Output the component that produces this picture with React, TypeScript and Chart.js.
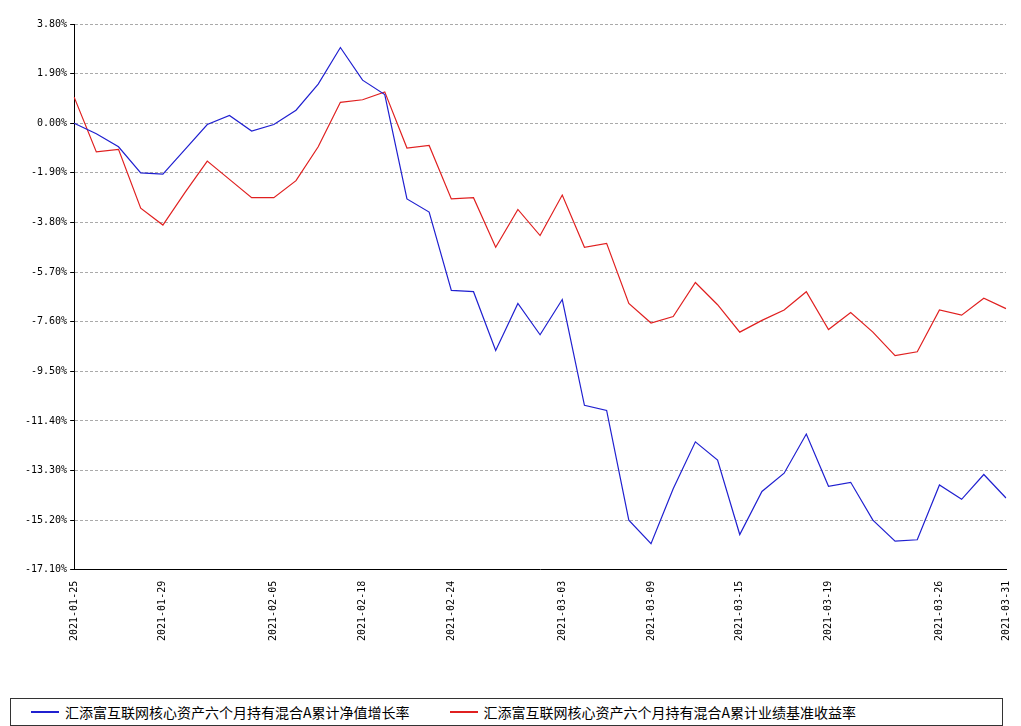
import { useEffect, useRef } from "react";
import { Chart, registerables } from "chart.js";

Chart.register(...registerables);

const dates = [
  "2021-01-25", "2021-01-26", "2021-01-27", "2021-01-28", "2021-01-29",
  "2021-02-01", "2021-02-02", "2021-02-03", "2021-02-04", "2021-02-05",
  "2021-02-08", "2021-02-09", "2021-02-10", "2021-02-18", "2021-02-19",
  "2021-02-22", "2021-02-23", "2021-02-24", "2021-02-25", "2021-02-26",
  "2021-03-01", "2021-03-02", "2021-03-03", "2021-03-04", "2021-03-05",
  "2021-03-08", "2021-03-09", "2021-03-10", "2021-03-11", "2021-03-12",
  "2021-03-15", "2021-03-16", "2021-03-17", "2021-03-18", "2021-03-19",
  "2021-03-22", "2021-03-23", "2021-03-24", "2021-03-25", "2021-03-26",
  "2021-03-29", "2021-03-30", "2021-03-31",
];

const shownDates = [
  "2021-01-25", "2021-01-29", "2021-02-05", "2021-02-18", "2021-02-24",
  "2021-03-03", "2021-03-09", "2021-03-15", "2021-03-19", "2021-03-26", "2021-03-31",
];

const fundGrowth = [
  0.0, -0.4, -0.9, -1.9, -1.95, -1.0, -0.05, 0.3, -0.3, -0.05,
  0.5, 1.5, 2.9, 1.65, 1.1, -2.9, -3.4, -6.4, -6.45, -8.7,
  -6.9, -8.1, -6.75, -10.8, -11.0, -15.2, -16.1, -14.0, -12.2, -12.9,
  -15.75, -14.1, -13.4, -11.9, -13.9, -13.75, -15.2, -16.0, -15.95, -13.85,
  -14.4, -13.45, -14.35,
];

const benchmark = [
  1.0, -1.1, -1.0, -3.25, -3.9, -2.65, -1.45, -2.15, -2.85, -2.85,
  -2.2, -0.9, 0.8, 0.9, 1.2, -0.95, -0.85, -2.9, -2.85, -4.75,
  -3.3, -4.3, -2.75, -4.75, -4.6, -6.9, -7.65, -7.4, -6.1, -6.95,
  -8.0, -7.55, -7.15, -6.45, -7.9, -7.25, -8.0, -8.9, -8.75, -7.15,
  -7.35, -6.7, -7.1,
];

const yTicks = [3.8, 1.9, 0, -1.9, -3.8, -5.7, -7.6, -9.5, -11.4, -13.3, -15.2, -17.1];

const seriesNames = [
  "汇添富互联网核心资产六个月持有混合A累计净值增长率",
  "汇添富互联网核心资产六个月持有混合A累计业绩基准收益率",
];

const font = "'DejaVu Sans Mono', monospace";

export default function App() {
  const canvasRef = useRef<HTMLCanvasElement>(null);

  useEffect(() => {
    document.body.style.margin = "0";
    if (!canvasRef.current) return;
    const chart = new Chart(canvasRef.current, {
      type: "line",
      data: {
        labels: dates,
        datasets: [
          { label: seriesNames[0], data: fundGrowth, borderColor: "#2020d0", borderWidth: 1.2, pointRadius: 0, tension: 0 },
          { label: seriesNames[1], data: benchmark, borderColor: "#e02020", borderWidth: 1.2, pointRadius: 0, tension: 0 },
        ],
      },
      options: {
        animation: false,
        responsive: false,
        layout: { padding: { top: 24, right: 6, left: 22 } },
        plugins: { legend: { display: false }, tooltip: { enabled: false } },
        scales: {
          x: {
            offset: false,
            border: { color: "#000" },
            grid: { display: false },
            ticks: {
              autoSkip: false,
              maxRotation: 90,
              minRotation: 90,
              color: "#000",
              font: { family: font, size: 10 },
              callback: (_v, i) => (shownDates.includes(dates[i]) ? dates[i] : ""),
            },
          },
          y: {
            min: -17.1,
            max: 3.8,
            afterBuildTicks: (s) => {
              s.ticks = yTicks.map((v) => ({ value: v }));
            },
            border: { color: "#000", dash: [3, 2] },
            grid: {
              color: (c) => (c.tick && c.tick.value === -17.1 ? "rgba(0,0,0,0)" : "#aaa"),
              tickColor: "#000",
              tickLength: 4,
            },
            ticks: {
              color: "#000",
              font: { family: font, size: 10 },
              callback: (v) => Number(v).toFixed(2) + "%",
            },
          },
        },
      },
    });
    return () => chart.destroy();
  }, []);

  return (
    <div style={{ width: 1021, fontFamily: "'Noto Sans CJK SC', sans-serif" }}>
      <canvas ref={canvasRef} width={1021} height={644} />
      <div
        style={{
          margin: "54px 18px 0 10px",
          border: "1px solid #333",
          height: 26,
          display: "flex",
          alignItems: "center",
          fontSize: 14,
          gap: 40,
          paddingLeft: 20,
        }}
      >
        {seriesNames.map((n, i) => (
          <span key={n} style={{ display: "flex", alignItems: "center" }}>
            <span style={{ width: 28, height: 2, background: i === 0 ? "#2020d0" : "#e02020", marginRight: 6 }} />
            {n}
          </span>
        ))}
      </div>
    </div>
  );
}
